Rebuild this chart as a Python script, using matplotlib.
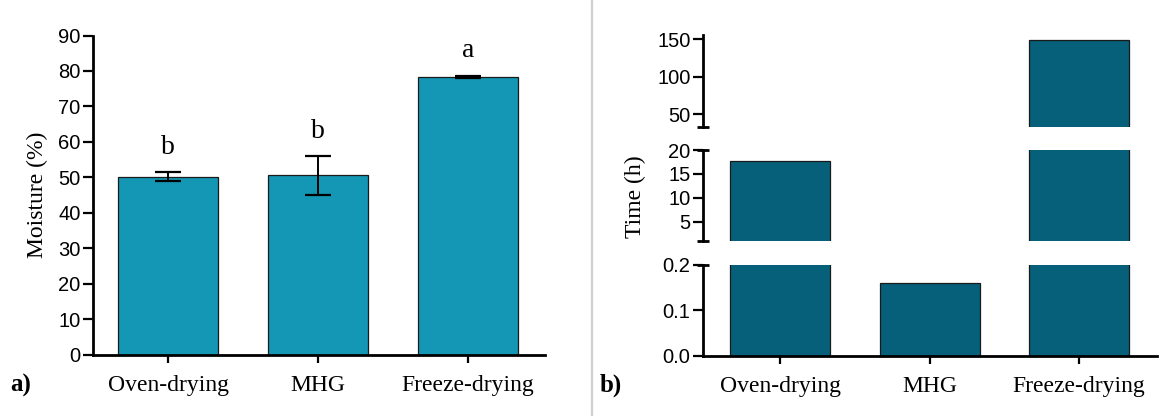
import matplotlib.pyplot as plt
from matplotlib.lines import Line2D
from matplotlib.ticker import FormatStrFormatter

# data
methods = ['Oven-drying', 'MHG', 'Freeze-drying']
moisture = [50.2, 50.6, 78.4]
moisture_err = [1.2, 5.5, 0.3]
moisture_groups = ['b', 'b', 'a']
drying_time = [17.8, 0.161, 149.0]

# broken y axis of panel b, top segment first
time_ranges = [(32.7, 155.7), (1.0, 20.0), (0.0, 0.2)]
time_ticks = [[50, 100, 150], [5, 10, 15, 20], [0.0, 0.1, 0.2]]

SANS = 'Liberation Sans'
SERIF = 'Liberation Serif'
LIGHT_TEAL = '#1397b4'
DARK_TEAL = '#07607a'

W, H = 1170, 416
fig = plt.figure(figsize=(W / 100, H / 100), dpi=100)


def px_rect(x0, x1, y_top, y_bottom):
    """axes rect in figure fractions from pixel edges"""
    return [x0 / W, 1 - y_bottom / H, (x1 - x0) / W, (y_bottom - y_top) / H]


def style_axes(ax, show_bottom=True):
    for side in ('top', 'right'):
        ax.spines[side].set_visible(False)
    ax.spines['left'].set_linewidth(2.0)
    ax.spines['bottom'].set_linewidth(2.0)
    ax.spines['bottom'].set_visible(show_bottom)
    ax.tick_params(axis='y', length=7, width=1.6, pad=2, labelsize=14.5)
    ax.tick_params(axis='x', length=6, width=1.6, pad=9, labelsize=17)
    for lab in ax.get_yticklabels():
        lab.set_fontfamily(SANS)
    for lab in ax.get_xticklabels():
        lab.set_fontfamily(SERIF)


def draw_cap(ax, yfrac):
    # short horizontal bar across the spine to mark an axis break
    ax.plot([-0.013, 0.013], [yfrac, yfrac], transform=ax.transAxes,
            color='black', lw=2.0, clip_on=False, solid_capstyle='butt')


x = list(range(len(methods)))

# ---- panel a: moisture ----
ax_a = fig.add_axes(px_rect(93, 545, 35.5, 354.5))
ax_a.bar(x, moisture, width=0.667, color=LIGHT_TEAL, edgecolor='#1a1a1a',
         linewidth=0.9, zorder=2)
ax_a.errorbar(x, moisture, yerr=moisture_err, fmt='none', ecolor='black',
              elinewidth=1.4, capsize=9.5, capthick=1.6, zorder=3)
for xi, m, e, g in zip(x, moisture, moisture_err, moisture_groups):
    ax_a.annotate(g, (xi, m + e), xytext=(0, 13), textcoords='offset points',
                  ha='center', va='baseline', fontsize=20, family=SERIF)
ax_a.set_xlim(-0.5, 2.513)
ax_a.set_ylim(0, 90)
ax_a.set_yticks(range(0, 91, 10))
ax_a.set_xticks(x)
ax_a.set_xticklabels(methods)
ax_a.set_ylabel('Moisture (%)', fontsize=17, family=SERIF, labelpad=7)
style_axes(ax_a)

# ---- panel b: drying time, broken axis ----
seg_px = [(35.0, 127.3), (150.0, 241.0), (265.0, 355.5)]
axes_b = []
for i, ((top, bot), lim, ticks) in enumerate(zip(seg_px, time_ranges, time_ticks)):
    ax = fig.add_axes(px_rect(703, 1157, top, bot))
    ax.bar(x, drying_time, width=0.667, color=DARK_TEAL, edgecolor='#1a1a1a',
           linewidth=0.9, zorder=2)
    ax.set_xlim(-0.515, 2.52)
    ax.set_ylim(*lim)
    ax.set_yticks(ticks)
    last = i == len(seg_px) - 1
    if last:
        ax.set_xticks(x)
        ax.set_xticklabels(methods)
        ax.yaxis.set_major_formatter(FormatStrFormatter('%.1f'))
    else:
        ax.set_xticks([])
    style_axes(ax, show_bottom=last)
    axes_b.append(ax)

draw_cap(axes_b[0], 0)
draw_cap(axes_b[1], 1)
draw_cap(axes_b[1], 0)
draw_cap(axes_b[2], 1)

fig.text(635 / W, 1 - 197 / H, 'Time (h)', rotation=90, ha='center',
         va='center', fontsize=17, family=SERIF)

# panel letters and divider
fig.text(10 / W, 1 - 385 / H, 'a)', fontsize=18, weight='bold', family=SERIF,
         va='center')
fig.text(600 / W, 1 - 385 / H, 'b)', fontsize=18, weight='bold', family=SERIF,
         va='center')
fig.add_artist(Line2D([592 / W, 592 / W], [0, 1], color='#cfcfcf', lw=1.6))

fig.savefig('out.png', dpi=100)
